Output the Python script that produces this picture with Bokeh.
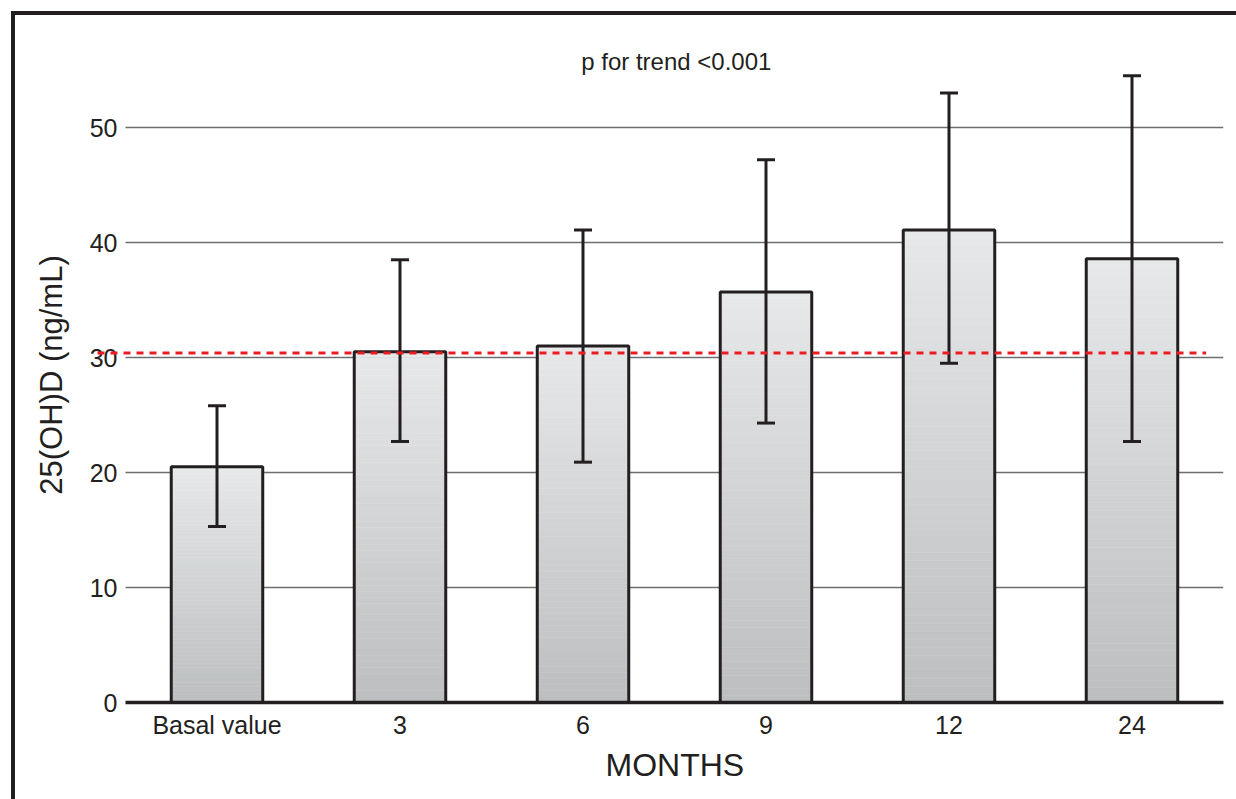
from bokeh.plotting import figure
from bokeh.models import (Range1d, FixedTicker, Whisker, TeeHead, ColumnDataSource,
                          Label, Title)
from bokeh.embed import file_html
from bokeh.resources import INLINE

# ---------------- data ----------------
categories = ["Basal value", "3", "6", "9", "12", "24"]
means = [20.5, 30.5, 31.0, 35.7, 41.1, 38.6]
lower = [15.3, 22.7, 20.9, 24.3, 29.5, 22.7]
upper = [25.8, 38.5, 41.1, 47.2, 53.0, 54.5]
ref_level = 30.4
y_ticks = [0, 10, 20, 30, 40, 50]
x_title = "MONTHS"
y_title = "25(OH)D (ng/mL)"
note = "p for trend <0.001"

# ---------------- style ----------------
FONT = "Liberation Sans"
INK = "#231f20"
GRID = "#6d6e71"
RED = "#ed1c24"
TOP_C = (0xe7, 0xe8, 0xe9)
BOT_C = (0xbc, 0xbe, 0xc0)
BAR_W = 0.5
N_SLICES = 60

xs = list(range(len(categories)))
X_START, X_END = -0.653, len(categories) - 0.5
Y_END = 56.96

p = figure(width=1236, height=799, output_backend="svg", toolbar_location=None,
           x_range=Range1d(X_START, X_END), y_range=Range1d(0, Y_END),
           min_border_left=97, min_border_right=13, min_border_top=47,
           min_border_bottom=97)
p.outline_line_color = None
p.background_fill_color = "white"
p.border_fill_color = None
p.styles = {
    "background": ("linear-gradient(#231f20,#231f20) 10.5px 10.5px / 4px 100% no-repeat, "
                   "linear-gradient(#231f20,#231f20) 10.5px 10.5px / 100% 4px no-repeat, "
                   "white")
}
p.xgrid.visible = False
p.ygrid.visible = False

# horizontal grid lines (from tick values)
gy = [t for t in y_ticks if t > 0]
p.segment(x0=[-0.5] * len(gy), x1=[X_END] * len(gy), y0=gy, y1=gy,
          line_color=GRID, line_width=1.5)

# gradient bars
l, r, b, t, c = [], [], [], [], []
for x, v in zip(xs, means):
    for k in range(N_SLICES):
        f = (k + 0.5) / N_SLICES
        col = tuple(int(round(BOT_C[j] + (TOP_C[j] - BOT_C[j]) * f)) for j in range(3))
        l.append(x - BAR_W / 2)
        r.append(x + BAR_W / 2)
        b.append(v * k / N_SLICES)
        t.append(v * (k + 1) / N_SLICES)
        c.append("#%02x%02x%02x" % col)
p.quad(left=l, right=r, bottom=b, top=t, fill_color=c, line_color=c, line_width=0.5)
p.vbar(x=xs, top=means, width=BAR_W, bottom=0, fill_color=None,
       line_color=INK, line_width=3)

# error bars
src = ColumnDataSource(dict(x=xs, lo=lower, hi=upper))
w = Whisker(base="x", lower="lo", upper="hi", source=src,
            line_color=INK, line_width=3, level="annotation",
            upper_head=TeeHead(size=18, line_color=INK, line_width=3),
            lower_head=TeeHead(size=18, line_color=INK, line_width=3))
p.add_layout(w)

# reference dashed line
p.line(x=[X_START, 5.405], y=[ref_level, ref_level], line_color=RED,
       line_width=3, line_dash="7 6", level="overlay")

# axes
p.xaxis.ticker = FixedTicker(ticks=xs)
p.xaxis.major_label_overrides = {i: s for i, s in enumerate(categories)}
p.xaxis.bounds = (-0.5, X_END)
p.xaxis.axis_line_color = INK
p.xaxis.axis_line_width = 3.5
p.xaxis.major_tick_line_color = None
p.xaxis.minor_tick_line_color = None
p.xaxis.major_tick_out = 0
p.xaxis.major_tick_in = 0
p.xaxis.major_label_standoff = 8
p.xaxis.major_label_text_font = FONT
p.xaxis.major_label_text_font_size = "25px"
p.xaxis.major_label_text_color = INK

p.yaxis.ticker = FixedTicker(ticks=y_ticks)
p.yaxis.axis_line_color = None
p.yaxis.major_tick_line_color = None
p.yaxis.minor_tick_line_color = None
p.yaxis.major_tick_out = 0
p.yaxis.major_tick_in = 0
p.yaxis.major_label_standoff = -20
p.yaxis.major_label_text_font = FONT
p.yaxis.major_label_text_font_size = "25px"
p.yaxis.major_label_text_color = INK
p.yaxis.axis_label = y_title
p.yaxis.axis_label_text_font = FONT
p.yaxis.axis_label_text_font_size = "31px"
p.yaxis.axis_label_text_font_style = "normal"
p.yaxis.axis_label_text_color = INK
p.yaxis.axis_label_standoff = 18

p.add_layout(Title(text=x_title, align="left", offset=508, standoff=7,
                   text_font=FONT, text_font_size="32px", text_font_style="normal",
                   text_color=INK), "below")
p.add_layout(Label(x=2.51, y=55.7, text=note, text_align="center",
                   text_baseline="middle", text_font=FONT, text_font_size="24px",
                   text_color=INK))

open("out.html", "w").write(file_html(p, INLINE))
